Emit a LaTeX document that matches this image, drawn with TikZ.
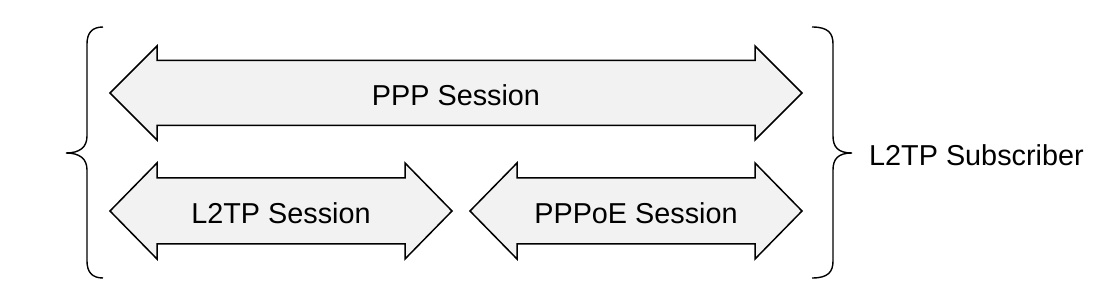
\documentclass[tikz,border=0pt]{standalone}
\usepackage{fontspec}
\setmainfont{Liberation Sans}
\begin{document}
\begin{tikzpicture}[x=1pt,y=-1pt,
  arrowshape/.style={draw=black,fill=black!5,line width=1.5pt,line join=miter},
  bracestyle/.style={draw=black,line width=1.4pt},
  lbl/.style={font=\fontsize{28.8}{34}\selectfont,inner sep=0pt}]
\useasboundingbox (0,0) rectangle (1114,307);
\newcommand{\dblarrow}[5]{% x1 x2 yc halfshaft halfhead
  \path[arrowshape] (#1,#3) -- (#1+47,#3-#5) -- (#1+47,#3-#4) -- (#2-47,#3-#4)
    -- (#2-47,#3-#5) -- (#2,#3) -- (#2-47,#3+#5) -- (#2-47,#3+#4)
    -- (#1+47,#3+#4) -- (#1+47,#3+#5) -- cycle;}
\dblarrow{110}{802}{93}{32.5}{47}
\dblarrow{110}{452}{211}{33}{48}
\dblarrow{470}{802}{211}{33}{48}
\node[lbl] (ppp) at (456,95) {PPP Session};
\node[lbl] (l2tp) at (281,213) {L2TP Session};
\node[lbl] (pppoe) at (636,213) {PPPoE Session};
\node[lbl,anchor=west] (sub) at (869,155) {L2TP Subscriber};
% left brace
\path[bracestyle] (103,27) .. controls (92,27) and (87,33) .. (87,44)
  -- (87,136) .. controls (87,147) and (80,153) .. (66,153)
  .. controls (80,153) and (87,159) .. (87,170)
  -- (87,261) .. controls (87,272) and (92,278) .. (103,278);
% right brace
\path[bracestyle] (812,27) .. controls (828,27) and (833,33) .. (833,44)
  -- (833,136) .. controls (833,147) and (838,153) .. (852,153)
  .. controls (838,153) and (833,159) .. (833,170)
  -- (833,261) .. controls (833,272) and (828,278) .. (812,278);
\end{tikzpicture}
\end{document}
